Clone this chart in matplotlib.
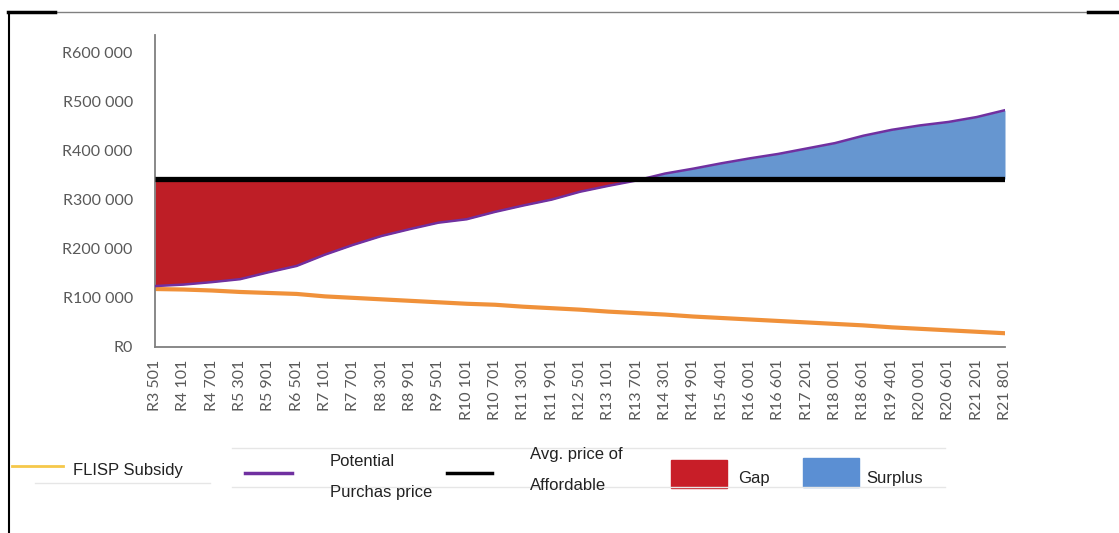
import matplotlib.pyplot as plt
import numpy as np
from matplotlib.lines import Line2D
from matplotlib.patches import Rectangle

# Income bands (monthly household income)
income_labels = ['R3 501', 'R4 101', 'R4 701', 'R5 301', 'R5 901', 'R6 501', 'R7 101',
                 'R7 701', 'R8 301', 'R8 901', 'R9 501', 'R10 101', 'R10 701', 'R11 301',
                 'R11 901', 'R12 501', 'R13 101', 'R13 701', 'R14 301', 'R14 901',
                 'R15 401', 'R16 001', 'R16 601', 'R17 201', 'R18 001', 'R18 601',
                 'R19 401', 'R20 001', 'R20 601', 'R21 201', 'R21 801']

# Potential purchase price per band (R)
purchase_price = [124000, 127000, 132000, 138000, 152000, 165000, 188000, 208000,
                  226000, 240000, 253000, 260000, 275000, 288000, 300000, 316000,
                  328000, 339000, 353000, 363000, 374000, 384000, 393000, 404000,
                  415000, 430000, 442000, 451000, 458000, 468000, 482000]

# FLISP subsidy per band (R)
flisp_subsidy = [118000, 117000, 115000, 112000, 110000, 108000, 103000, 100000,
                 97000, 94000, 91000, 88000, 86000, 82000, 79000, 76000, 72000,
                 69000, 66000, 62000, 59000, 56000, 53000, 50000, 47000, 44000,
                 40000, 37000, 34000, 31000, 28000]

# Average price of an affordable house (R)
avg_affordable = 342000

y_ticks = [0, 100000, 200000, 300000, 400000, 500000, 600000]

W, H = 1119, 533
fig = plt.figure(figsize=(W / 100, H / 100), dpi=100)
fig.patch.set_facecolor('white')

x = np.arange(len(income_labels))
price = np.array(purchase_price)
avg = np.full(len(x), avg_affordable)

ax = fig.add_axes([155 / W, 1 - 347 / H, 850 / W, 312 / H])
ax.fill_between(x, price, avg, where=price <= avg, interpolate=True,
                color='#BE1E26', linewidth=0, zorder=1)
ax.fill_between(x, price, avg, where=price >= avg, interpolate=True,
                color='#6696D0', linewidth=0, zorder=1)
ax.plot(x, flisp_subsidy, color='#F0913A', linewidth=3, zorder=2)
ax.plot(x, price, color='#7030A0', linewidth=1.8, zorder=3)
ax.plot(x, avg, color='black', linewidth=3.8, zorder=4, solid_capstyle='butt')

ax.set_xlim(0, len(x) - 1)
ax.set_ylim(0, 635000)
ax.set_xticks(x)
ax.set_xticklabels(income_labels, rotation=90, family='Lato', fontsize=11.5,
                   color='#595959')
ax.set_yticks(y_ticks)
ax.set_yticklabels(['R' + f'{v:,}'.replace(',', ' ') if v else 'R0' for v in y_ticks],
                   family='Lato', fontsize=11.5, color='#595959')
ax.tick_params(axis='x', length=0, pad=9)
ax.tick_params(axis='y', length=0, pad=16)
for side in ['top', 'right']:
    ax.spines[side].set_visible(False)
for side in ['left', 'bottom']:
    ax.spines[side].set_color('#7f7f7f')
    ax.spines[side].set_linewidth(1.3)

# Overlay in pixel coordinates for the frame and the legend strip
ov = fig.add_axes([0, 0, 1, 1], zorder=-1)
ov.set_xlim(0, W)
ov.set_ylim(H, 0)
ov.axis('off')

# Frame
ov.plot([9, 9], [12, H], color='black', linewidth=1.5)
ov.plot([55, 1088], [12, 12], color='#808080', linewidth=1)
ov.plot([8, 55], [12, 12], color='black', linewidth=2.5)
ov.plot([1088, W], [12, 12], color='black', linewidth=2.5)

# Faint separators in the legend strip
for (x0, x1, yy) in [(232, 945, 448), (232, 945, 487), (35, 210, 483)]:
    ov.plot([x0, x1], [yy, yy], color='#e6e6e6', linewidth=1)

lfont = dict(family='Liberation Sans', fontsize=12, color='#222222', va='center')
ov.add_line(Line2D([12, 63], [466, 466], color='#F5C84A', linewidth=2))
ov.text(73, 470, 'FLISP Subsidy', **lfont)
ov.add_line(Line2D([245, 292], [473, 473], color='#7030A0', linewidth=2.5))
ov.text(330, 462, 'Potential', **lfont)
ov.text(330, 493, 'Purchas price', **lfont)
ov.add_line(Line2D([447, 492], [473, 473], color='black', linewidth=2.5))
ov.text(530, 455, 'Avg. price of', **lfont)
ov.text(530, 486, 'Affordable', **lfont)
ov.add_patch(Rectangle((671, 460), 56, 28, color='#C81E28'))
ov.text(738, 479, 'Gap', **lfont)
ov.add_patch(Rectangle((803, 458), 56, 29, color='#5B8FD3'))
ov.text(866, 478, 'Surplus', **lfont)

fig.savefig('out.png', dpi=100, facecolor='white')
